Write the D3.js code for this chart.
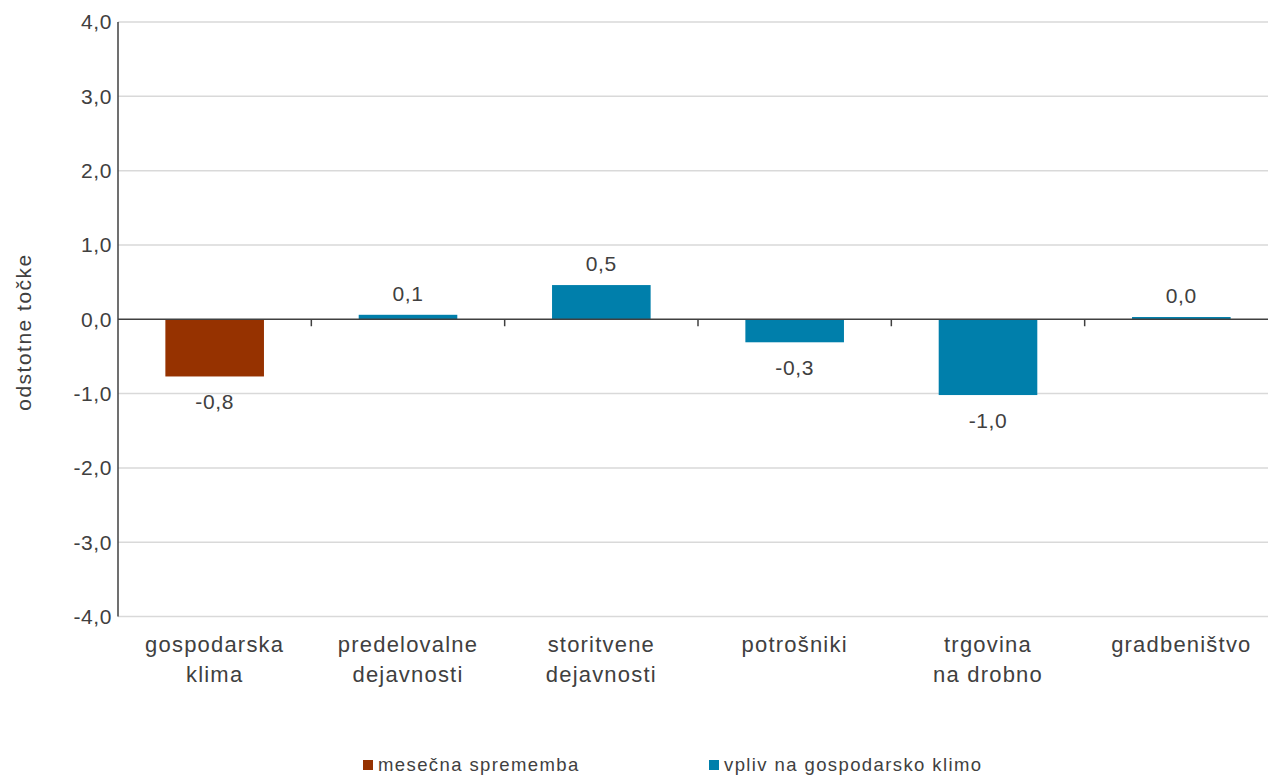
<!DOCTYPE html>
<html>
<head>
<meta charset="utf-8">
<script src="https://cdn.jsdelivr.net/npm/d3@7"></script>
<style>
  html, body { margin: 0; padding: 0; background: #ffffff; }
  svg { display: block; }
  text { font-family: "Liberation Sans", Arial, sans-serif; fill: #404040; }
</style>
</head>
<body>
<svg id="chart" width="1268" height="776"></svg>
<script>
// Categories (multi-line labels), values and series membership
const categories = [
  ["gospodarska", "klima"],
  ["predelovalne", "dejavnosti"],
  ["storitvene", "dejavnosti"],
  ["potrošniki"],
  ["trgovina", "na drobno"],
  ["gradbeništvo"]
];
const values = [-0.77, 0.06, 0.46, -0.31, -1.02, 0.03];
const seriesOf = [0, 1, 1, 1, 1, 1];
const seriesNames = ["mesečna sprememba", "vpliv na gospodarsko klimo"];
const seriesColors = ["#963200", "#007fab"];
const yTicks = [-4, -3, -2, -1, 0, 1, 2, 3, 4];
const yTitle = "odstotne točke";

const svg = d3.select("#chart");
const locale = d3.formatLocale({ decimal: ",", thousands: ".", grouping: [3], currency: ["", " €"], minus: "-" });
const fmt = locale.format(".1f");

const plotLeft = 118, plotRight = 1278, plotTop = 22, plotBottom = 616.5;
const x = d3.scaleBand().domain(d3.range(categories.length)).range([plotLeft, plotRight]).paddingInner(0.49).paddingOuter(0.245);
const xb = d3.scaleBand().domain(d3.range(categories.length)).range([plotLeft, plotRight]);
const y = d3.scaleLinear().domain([-4, 4]).range([plotBottom, plotTop]);

// horizontal gridlines
svg.append("g")
  .selectAll("line").data(yTicks.filter(d => d !== 0)).join("line")
  .attr("x1", plotLeft).attr("x2", plotRight)
  .attr("y1", d => y(d)).attr("y2", d => y(d))
  .attr("stroke", "#d9d9d9").attr("stroke-width", 1.5);

// y axis tick labels
svg.append("g")
  .selectAll("text").data(yTicks).join("text")
  .attr("x", 112).attr("y", d => y(d))
  .attr("dy", "0.35em")
  .attr("text-anchor", "end")
  .attr("font-size", 21)
  .style("letter-spacing", "0.6px")
  .text(d => fmt(d));

// bars
svg.append("g")
  .selectAll("rect").data(values).join("rect")
  .attr("x", (d, i) => x(i))
  .attr("width", x.bandwidth())
  .attr("y", d => y(Math.max(0, d)))
  .attr("height", d => Math.abs(y(d) - y(0)))
  .attr("fill", (d, i) => seriesColors[seriesOf[i]]);

// value labels
svg.append("g")
  .selectAll("text").data(values).join("text")
  .attr("x", (d, i) => x(i) + x.bandwidth() / 2)
  .attr("y", d => d >= 0 ? y(d) - 14 : y(d) + 33)
  .attr("text-anchor", "middle")
  .attr("font-size", 21)
  .style("letter-spacing", "0.6px")
  .text(d => fmt(d));

// y axis line
svg.append("line")
  .attr("x1", plotLeft).attr("x2", plotLeft).attr("y1", plotTop).attr("y2", plotBottom)
  .attr("stroke", "#404040").attr("stroke-width", 1.5);

// zero axis line with category separators
svg.append("line")
  .attr("x1", plotLeft).attr("x2", plotRight).attr("y1", y(0)).attr("y2", y(0))
  .attr("stroke", "#404040").attr("stroke-width", 1.5);
svg.append("g")
  .selectAll("line").data(d3.range(1, categories.length + 1)).join("line")
  .attr("x1", i => xb(i - 1) + xb.bandwidth()).attr("x2", i => xb(i - 1) + xb.bandwidth())
  .attr("y1", y(0)).attr("y2", y(0) + 7)
  .attr("stroke", "#404040").attr("stroke-width", 1.5);

// category labels
const cat = svg.append("g")
  .selectAll("text").data(categories).join("text")
  .attr("text-anchor", "middle")
  .attr("font-size", 22)
  .style("letter-spacing", "1.2px");
cat.selectAll("tspan").data((d, i) => d.map(t => ({ t, i }))).join("tspan")
  .attr("x", d => xb(d.i) + xb.bandwidth() / 2)
  .attr("y", (d, j) => 652 + j * 30)
  .text(d => d.t);

// y axis title
svg.append("text")
  .attr("transform", `translate(31,332) rotate(-90)`)
  .attr("text-anchor", "middle")
  .attr("font-size", 21)
  .style("letter-spacing", "1.5px")
  .text(yTitle);

// legend
const legendX = [363, 709];
const lg = svg.append("g")
  .selectAll("g").data(seriesNames).join("g")
  .attr("transform", (d, i) => `translate(${legendX[i]},760)`);
lg.append("rect").attr("width", 10).attr("height", 10)
  .attr("fill", (d, i) => seriesColors[i]);
lg.append("text").attr("x", 15).attr("y", 11)
  .attr("font-size", 18.5)
  .style("letter-spacing", "1.4px")
  .text(d => d);
</script>
</body>
</html>
